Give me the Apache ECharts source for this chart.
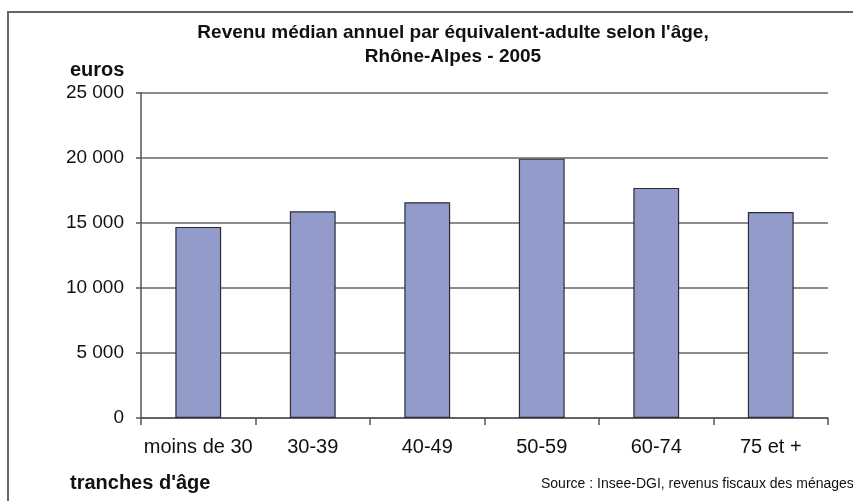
<!DOCTYPE html>
<html><head><meta charset="utf-8">
<script src="https://cdn.jsdelivr.net/npm/echarts@6/dist/echarts.min.js"></script>
<style>html,body{margin:0;padding:0;background:#fff}#c{width:853px;height:501px}</style>
</head><body><div id="c"></div>
<script>
const categories = ['moins de 30', '30-39', '40-49', '50-59', '60-74', '75 et +'];
const values = [14700, 15900, 16600, 19950, 17700, 15850];
const yTicks = [0, 5000, 10000, 15000, 20000, 25000];
const titleText = "Revenu médian annuel par équivalent-adulte selon l'âge,\nRhône-Alpes - 2005";
const yName = 'euros';
const xName = "tranches d'âge";
const sourceText = 'Source : Insee-DGI, revenus fiscaux des ménages';

const fmt = v => String(v).replace(/\B(?=(\d{3})+(?!\d))/g, ' ');
const chart = echarts.init(document.getElementById('c'));
const FF = '"Liberation Sans", Arial, sans-serif';
chart.setOption({
  animation: false,
  backgroundColor: '#fff',
  title: [
    { text: titleText, left: 453, top: 21, padding: 0, textAlign: 'center',
      textStyle: { fontFamily: FF, fontSize: 19, fontWeight: 'bold', color: '#111', lineHeight: 24 } },
    { text: yName, left: 70, top: 60, padding: 0, textStyle: { fontFamily: FF, fontSize: 20, fontWeight: 'bold', color: '#111' } },
    { text: xName, left: 70, top: 473, padding: 0, textStyle: { fontFamily: FF, fontSize: 20, fontWeight: 'bold', color: '#111' } },
    { text: sourceText, left: 541, top: 477, padding: 0, textStyle: { fontFamily: FF, fontSize: 14, fontWeight: 'normal', color: '#111' } }
  ],
  graphic: [
    { type: 'rect', shape: { x: 8, y: 12, width: 900, height: 600 }, silent: true, z: -1,
      style: { fill: 'none', stroke: '#666', lineWidth: 2 } }
  ],
  grid: { left: 141, right: 25, top: 93, bottom: 83 },
  xAxis: {
    type: 'category', data: categories,
    axisLine: { lineStyle: { color: '#555', width: 1.5 } },
    axisTick: { show: true, length: 7, alignWithLabel: false, lineStyle: { color: '#555', width: 1.5 } },
    axisLabel: { fontFamily: FF, fontSize: 20, color: '#111', margin: 19, interval: 0, hideOverlap: false }
  },
  yAxis: {
    type: 'value', min: 0, max: 25000, interval: 5000,
    axisLine: { show: true, lineStyle: { color: '#555', width: 1.5 } },
    axisTick: { show: true, length: 5, lineStyle: { color: '#555', width: 1.5 } },
    axisLabel: { fontFamily: FF, fontSize: 19, color: '#111', margin: 17,
      formatter: v => yTicks.includes(v) ? fmt(v) : '' },
    splitLine: { show: true, lineStyle: { color: '#666', width: 1.5 } }
  },
  series: [{
    type: 'bar', data: values, barWidth: '40%',
    itemStyle: { color: '#939bca', borderColor: '#2b2b3a', borderWidth: 1.2 }
  }]
});
</script></body></html>
